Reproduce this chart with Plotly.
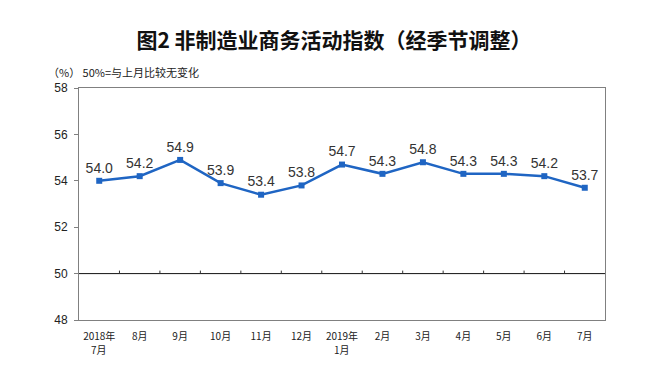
import plotly.graph_objects as go

months = ["2018年", "8月", "9月", "10月", "11月", "12月", "2019年",
          "2月", "3月", "4月", "5月", "6月", "7月"]
second_line = {0: "7月", 6: "1月"}
values = [54.0, 54.2, 54.9, 53.9, 53.4, 53.8, 54.7, 54.3, 54.8, 54.3, 54.3, 54.2, 53.7]
y_ticks = [48, 50, 52, 54, 56, 58]

font_cn = "Noto Sans CJK SC, Arial, sans-serif"
x_idx = list(range(len(months)))

# page body has an 8px default margin, so the figure is offset by 8px
W, H = 651, 358
ML, MR, MT, MB = 71, 54, 80, 46
PW, PH = W - ML - MR, H - MT - MB

fig = go.Figure()
fig.add_trace(go.Scatter(
    x=x_idx, y=values, mode="lines+markers+text",
    line=dict(color="#1f65c3", width=2.5),
    marker=dict(symbol="square", size=6, color="#1f65c3"),
    text=[f"{v:.1f}" for v in values], textposition="top center",
    textfont=dict(family="Arial, Liberation Sans, sans-serif", size=14, color="#333333"),
    cliponaxis=False, hoverinfo="skip",
))

# 50% reference line (category axis crossing) with tick marks between categories
fig.add_shape(type="line", xref="paper", yref="y", x0=0, x1=1, y0=50, y1=50,
              line=dict(color="#111111", width=1))
for i in range(len(months) - 1):
    fig.add_shape(type="line", xref="x", yref="y", ysizemode="pixel", yanchor=50,
                  x0=i + 0.5, x1=i + 0.5, y0=0, y1=3,
                  line=dict(color="#333333", width=1))

annotations = [dict(text="（%） 50%=与上月比较无变化", xref="paper", yref="paper",
                    x=-(ML - 38) / PW, y=1 + 16 / PH, xanchor="left", yanchor="middle",
                    showarrow=False,
                    font=dict(family=font_cn, size=11, color="#222222"))]
for i, t in second_line.items():
    annotations.append(dict(text=t, xref="x", yref="paper", x=i, y=-29 / PH,
                            xanchor="center", yanchor="middle", showarrow=False,
                            font=dict(family=font_cn, size=10, color="#222222")))

fig.update_layout(
    width=W, height=H,
    margin=dict(l=ML, r=MR, t=MT, b=MB),
    paper_bgcolor="white", plot_bgcolor="white",
    showlegend=False,
    title=dict(text="<b>图2 非制造业商务活动指数（经季节调整）</b>", x=(334 - 8) / W, xanchor="center",
               y=1 - 33 / H, yanchor="middle",
               font=dict(family=font_cn, size=21, color="#111111")),
    xaxis=dict(
        range=[-0.5, len(months) - 0.5], tickmode="array", tickvals=x_idx, ticktext=months,
        showgrid=False, zeroline=False, showline=True, linecolor="#808080", linewidth=1,
        mirror=True, ticks="", automargin=False, ticklabelstandoff=7,
        tickfont=dict(family=font_cn, size=10, color="#222222"),
    ),
    yaxis=dict(
        range=[48, 58], tickvals=y_ticks, showgrid=False, zeroline=False,
        showline=True, linecolor="#808080", linewidth=1, mirror=True,
        ticks="outside", ticklen=4, tickcolor="#808080", automargin=False,
        ticklabelstandoff=4,
        tickfont=dict(family="Arial, Liberation Sans, sans-serif", size=12, color="#222222"),
    ),
    annotations=annotations,
)

fig.write_html("out.html")
